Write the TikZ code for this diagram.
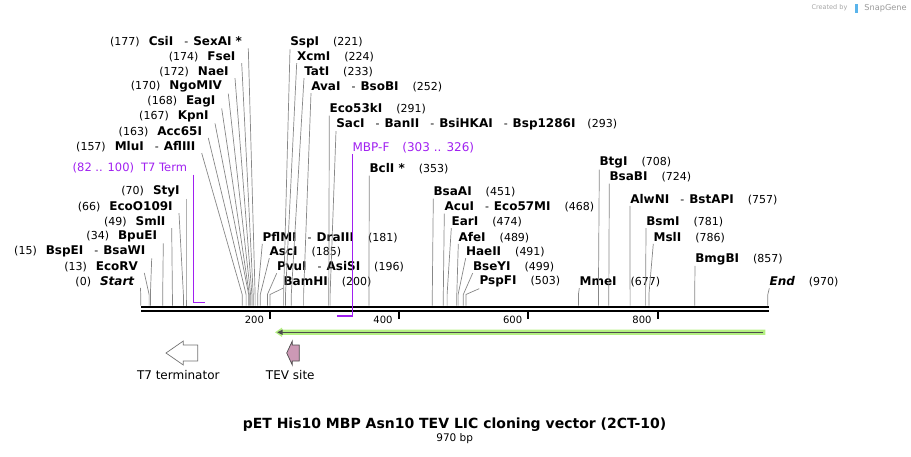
\documentclass[tikz,border=0pt]{standalone}
\usepackage{fontspec}
\setmainfont{DejaVu Sans}
\usetikzlibrary{arrows,positioning,shapes}

\definecolor{primerpurple}{RGB}{160,32,240}
\definecolor{cutgray}{RGB}{135,135,135}
\definecolor{orfgreen}{RGB}{180,240,130}
\definecolor{tevpink}{RGB}{204,153,181}
\definecolor{sgblue}{RGB}{90,180,235}

\newcommand{\nm}[1]{{\fontsize{12}{13}\selectfont\bfseries #1}}
\newcommand{\orsep}{\hspace{11pt}-\hspace{5pt}}

\begin{document}
\begin{tikzpicture}[x=1pt,y=-1pt,semithick]
  \tikzstyle{every node}=[inner ysep=1pt,font=\fontsize{11}{12}\selectfont]
  \tikzstyle{lsite}=[anchor=east,inner xsep=6pt]
  \tikzstyle{rsite}=[anchor=west,inner xsep=0pt]
  \tikzstyle{cut}=[draw=cutgray,line width=0.7pt,to path={-- ([yshift=11pt]\tikztotarget) -- (\tikztotarget)}]
  \tikzstyle{oligo}=[draw=primerpurple,line width=1.5pt]
  \tikzstyle{feat}=[draw=black!55,line width=0.7pt]

  \useasboundingbox (0,0) rectangle (911,456);

  % sequence line and ticks
  \coordinate (seqL) at (141,307);
  \coordinate (seqR) at (769.3,307);
  \draw[line width=2.7pt] (seqL) -- (seqR);
  \draw[line width=2.2pt] ([yshift=-4.2pt]seqL) -- ([yshift=-4.2pt]seqR);
  \draw[line width=1.8pt] (270,312.3) -- (270,318.8);
  \draw[line width=1.8pt] (398.7,312.3) -- (398.7,318.8);
  \draw[line width=1.8pt] (528.3,312.3) -- (528.3,318.8);
  \draw[line width=1.8pt] (657.7,312.3) -- (657.7,318.8);
  \node[anchor=east,font=\fontsize{10}{12}\selectfont] (t200) at (267.5,319.5) {200};
  \node[anchor=east,font=\fontsize{10}{12}\selectfont] (t400) at (396.2,319.5) {400};
  \node[anchor=east,font=\fontsize{10}{12}\selectfont] (t600) at (525.8,319.5) {600};
  \node[anchor=east,font=\fontsize{10}{12}\selectfont] (t800) at (655.2,319.5) {800};

  % cut positions on the line
  \coordinate (c0) at (140.7,305.5);
  \coordinate (c13) at (149.1,305.5);
  \coordinate (c15) at (150.4,305.5);
  \coordinate (c34) at (162.7,305.5);
  \coordinate (c49) at (172.4,305.5);
  \coordinate (c66) at (183.4,305.5);
  \coordinate (c70) at (186.0,305.5);
  \coordinate (c157) at (242.2,305.5);
  \coordinate (c163) at (246.1,305.5);
  \coordinate (c167) at (248.7,305.5);
  \coordinate (c168) at (249.3,305.5);
  \coordinate (c170) at (250.6,305.5);
  \coordinate (c172) at (251.9,305.5);
  \coordinate (c174) at (253.2,305.5);
  \coordinate (c177) at (255.1,305.5);
  \coordinate (c181) at (257.7,305.5);
  \coordinate (c185) at (260.3,305.5);
  \coordinate (c196) at (267.4,305.5);
  \coordinate (c200) at (270.0,305.5);
  \coordinate (c221) at (283.6,305.5);
  \coordinate (c224) at (285.5,305.5);
  \coordinate (c233) at (291.3,305.5);
  \coordinate (c252) at (303.6,305.5);
  \coordinate (c291) at (328.8,305.5);
  \coordinate (c293) at (330.1,305.5);
  \coordinate (c353) at (368.9,305.5);
  \coordinate (c451) at (432.3,305.5);
  \coordinate (c468) at (443.3,305.5);
  \coordinate (c474) at (447.1,305.5);
  \coordinate (c489) at (456.8,305.5);
  \coordinate (c491) at (458.1,305.5);
  \coordinate (c499) at (463.3,305.5);
  \coordinate (c503) at (465.9,305.5);
  \coordinate (c677) at (578.4,305.5);
  \coordinate (c708) at (598.4,305.5);
  \coordinate (c724) at (608.8,305.5);
  \coordinate (c757) at (630.1,305.5);
  \coordinate (c781) at (645.6,305.5);
  \coordinate (c786) at (648.9,305.5);
  \coordinate (c857) at (694.7,305.5);
  \coordinate (c970) at (767.8,305.5);
  \coordinate (p82) at (193.3,302.3);
  \coordinate (p100) at (205.4,302.3);
  \coordinate (p303) at (336.6,316);
  \coordinate (p326) at (352.3,316);

  % sites left of their lines
  \node[lsite] (csi) at (248.3,41.7) {(177)\hspace{9pt}\nm{CsiI}\orsep\nm{SexAI *}};
  \node[lsite] (fse) at (241.7,56.7) {(174)\hspace{9pt}\nm{FseI}};
  \node[lsite] (nae) at (235,71.7) {(172)\hspace{9pt}\nm{NaeI}};
  \node[lsite] (ngo) at (228.3,86.7) {(170)\hspace{9pt}\nm{NgoMIV}};
  \node[lsite] (eag) at (221.7,101.5) {(168)\hspace{9pt}\nm{EagI}};
  \node[lsite] (kpn) at (215,116.5) {(167)\hspace{9pt}\nm{KpnI}};
  \node[lsite] (acc) at (208.3,131.5) {(163)\hspace{9pt}\nm{Acc65I}};
  \node[lsite] (mlu) at (201.7,146.5) {(157)\hspace{9pt}\nm{MluI}\orsep\nm{AflIII}};
  \node[lsite,text=primerpurple,font=\fontsize{11.5}{13}\selectfont] (t7term) at (193.3,168.3) {(82 .. 100)\hspace{7pt}T7 Term};
  \node[lsite] (sty) at (186,191.7) {(70)\hspace{9pt}\nm{StyI}};
  \node[lsite] (ecoo) at (179,206.7) {(66)\hspace{9pt}\nm{EcoO109I}};
  \node[lsite] (sml) at (171.7,221.5) {(49)\hspace{9pt}\nm{SmlI}};
  \node[lsite] (bpu) at (163.3,236.5) {(34)\hspace{9pt}\nm{BpuEI}};
  \node[lsite] (bspe) at (151.7,251.5) {(15)\hspace{9pt}\nm{BspEI}\orsep\nm{BsaWI}};
  \node[lsite] (ecorv) at (144.3,266.5) {(13)\hspace{9pt}\nm{EcoRV}};
  \node[lsite] (start) at (140.5,281.5) {(0)\hspace{9pt}\nm{\itshape Start}};

  % sites right of their lines
  \node[rsite] (ssp) at (290,42.3) {\nm{SspI}\hspace{14pt}(221)};
  \node[rsite] (xcm) at (296.7,56.7) {\nm{XcmI}\hspace{14pt}(224)};
  \node[rsite] (tat) at (304,71.7) {\nm{TatI}\hspace{14pt}(233)};
  \node[rsite] (ava) at (311,86.7) {\nm{AvaI}\orsep\nm{BsoBI}\hspace{14pt}(252)};
  \node[rsite] (eco53) at (329.3,109) {\nm{Eco53kI}\hspace{14pt}(291)};
  \node[rsite] (sac) at (336,124) {\nm{SacI}\orsep\nm{BanII}\orsep\nm{BsiHKAI}\orsep\nm{Bsp1286I}\hspace{12pt}(293)};
  \node[rsite,text=primerpurple,font=\fontsize{12}{13}\selectfont] (mbpf) at (352.3,147.3) {MBP-F\hspace{13pt}(303 .. 326)};
  \node[rsite] (bcl) at (369.3,169) {\nm{BclI *}\hspace{14pt}(353)};
  \node[rsite] (pfl) at (262.3,237.3) {\nm{PflMI}\orsep\nm{DraIII}\hspace{14pt}(181)};
  \node[rsite] (asc) at (269.3,251.7) {\nm{AscI}\hspace{14pt}(185)};
  \node[rsite] (pvu) at (276.7,266.7) {\nm{PvuI}\orsep\nm{AsiSI}\hspace{14pt}(196)};
  \node[rsite] (bam) at (283.3,281.7) {\nm{BamHI}\hspace{14pt}(200)};
  \node[rsite] (bsaa) at (433.3,192.3) {\nm{BsaAI}\hspace{14pt}(451)};
  \node[rsite] (acu) at (444.3,207.3) {\nm{AcuI}\orsep\nm{Eco57MI}\hspace{14pt}(468)};
  \node[rsite] (ear) at (451.3,221.7) {\nm{EarI}\hspace{14pt}(474)};
  \node[rsite] (afe) at (458.3,237.3) {\nm{AfeI}\hspace{14pt}(489)};
  \node[rsite] (hae) at (465.7,251.7) {\nm{HaeII}\hspace{14pt}(491)};
  \node[rsite] (bsey) at (472.7,266.7) {\nm{BseYI}\hspace{14pt}(499)};
  \node[rsite] (pspf) at (479.3,281.7) {\nm{PspFI}\hspace{14pt}(503)};
  \node[rsite] (btg) at (599.3,162.7) {\nm{BtgI}\hspace{14pt}(708)};
  \node[rsite] (bsab) at (609.3,177.3) {\nm{BsaBI}\hspace{14pt}(724)};
  \node[rsite] (alwn) at (630,199.3) {\nm{AlwNI}\orsep\nm{BstAPI}\hspace{14pt}(757)};
  \node[rsite] (bsm) at (646,221.7) {\nm{BsmI}\hspace{14pt}(781)};
  \node[rsite] (msl) at (653.3,237.3) {\nm{MslI}\hspace{14pt}(786)};
  \node[rsite] (bmgb) at (695,259) {\nm{BmgBI}\hspace{14pt}(857)};
  \node[rsite] (mme) at (579.3,281.7) {\nm{MmeI}\hspace{14pt}(677)};
  \node[rsite] (seqend) at (769.3,281.7) {\nm{\itshape End}\hspace{14pt}(970)};

  \path (csi.south east) edge[cut] (c177)
  (fse.south east) edge[cut] (c174)
  (nae.south east) edge[cut] (c172)
  (ngo.south east) edge[cut] (c170)
  (eag.south east) edge[cut] (c168)
  (kpn.south east) edge[cut] (c167)
  (acc.south east) edge[cut] (c163)
  (mlu.south east) edge[cut] (c157)
  (sty.south east) edge[cut] (c70)
  (ecoo.south east) edge[cut] (c66)
  (sml.south east) edge[cut] (c49)
  (bpu.south east) edge[cut] (c34)
  (bspe.south east) edge[cut] (c15)
  (ecorv.south east) edge[cut] (c13)
  (start.south east) edge[cut] (c0)
  (ssp.south west) edge[cut] (c221)
  (xcm.south west) edge[cut] (c224)
  (tat.south west) edge[cut] (c233)
  (ava.south west) edge[cut] (c252)
  (eco53.south west) edge[cut] (c291)
  (sac.south west) edge[cut] (c293)
  (bcl.south west) edge[cut] (c353)
  (pfl.south west) edge[cut] (c181)
  (asc.south west) edge[cut] (c185)
  (pvu.south west) edge[cut] (c196)
  (bam.south west) edge[cut] (c200)
  (bsaa.south west) edge[cut] (c451)
  (acu.south west) edge[cut] (c468)
  (ear.south west) edge[cut] (c474)
  (afe.south west) edge[cut] (c489)
  (hae.south west) edge[cut] (c491)
  (bsey.south west) edge[cut] (c499)
  (pspf.south west) edge[cut] (c503)
  (btg.south west) edge[cut] (c708)
  (bsab.south west) edge[cut] (c724)
  (alwn.south west) edge[cut] (c757)
  (bsm.south west) edge[cut] (c781)
  (msl.south west) edge[cut] (c786)
  (bmgb.south west) edge[cut] (c857)
  (mme.south west) edge[cut] (c677)
  (seqend.south west) edge[cut] (c970)
  ;

  % primers
  \draw[oligo] (t7term.south east) -- (p82) -- (p100);
  \draw[oligo] (mbpf.south west) -- (p326) -- (p303);

  % orf arrow
  \fill[orfgreen] (765.3,329.7) -- (282,329.7) -- (282,327.6) -- (275,332.3) -- (282,337) -- (282,334.9) -- (765.3,334.9) -- cycle;
  \draw[black!70,line width=1.6pt] (763.3,332.3) -- (281,332.3);
  \fill[black!70] (277.3,332.3) -- (282.5,329.6) -- (282.5,335) -- cycle;

  % features
  \draw[feat,fill=white] (197.7,345) -- (183.3,345) -- (183.3,341) -- (166,353) -- (183.3,365) -- (183.3,361) -- (197.7,361) -- cycle;
  \draw[feat,draw=black!70,fill=tevpink] (299.3,345) -- (292.3,345) -- (292.3,341) -- (286.7,353) -- (292.3,365) -- (292.3,361) -- (299.3,361) -- cycle;
  \node[font=\fontsize{12}{13}\selectfont] (t7lab) at (178.3,375) {T7 terminator};
  \node[font=\fontsize{12}{13}\selectfont] (tevlab) at (290.3,375) {TEV site};

  % title
  \node[font=\bfseries\fontsize{14}{16}\selectfont] (title) at (454.5,424.5) {pET His10 MBP Asn10 TEV LIC cloning vector (2CT-10)};
  \node[font=\fontsize{10.5}{12}\selectfont] (size) at (454.7,439) {970 bp};

  % snapgene mark
  \node[anchor=east,text=black!35,font=\fontsize{6.5}{8}\selectfont] (made) at (851,8) {Created by};
  \fill[sgblue] (854.5,3.5) rectangle (858,13);
  \node[anchor=east,inner xsep=0pt,text=black!40,font=\fontsize{8.2}{10}\selectfont] (sg) at (907,8) {SnapGene};
\end{tikzpicture}
\end{document}
